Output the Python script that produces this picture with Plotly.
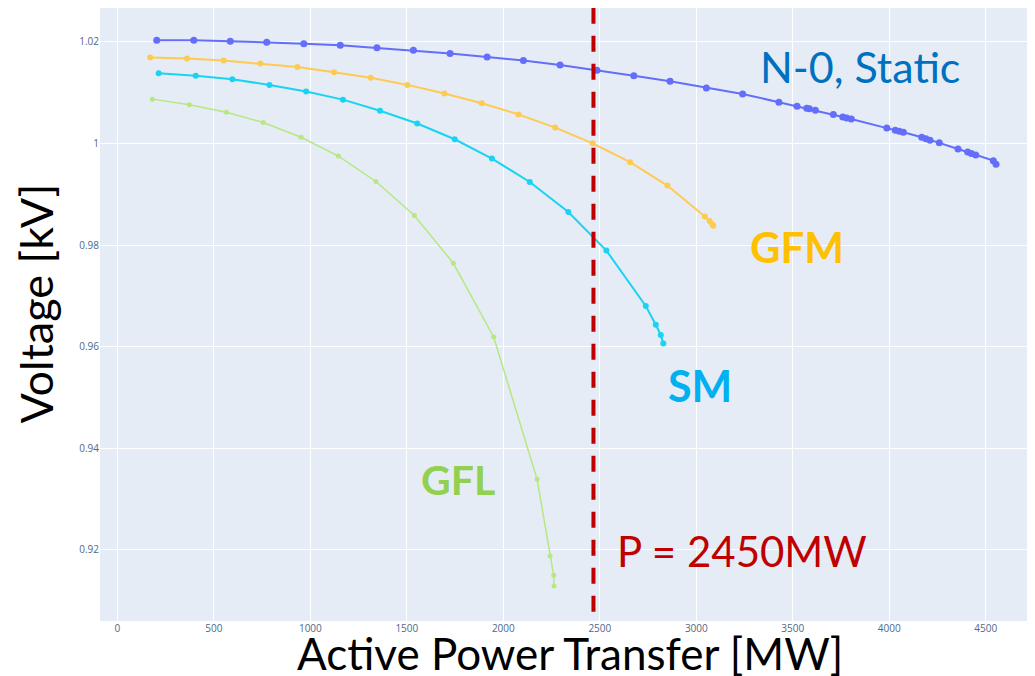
import plotly.graph_objects as go

# ---- data ----
static_p = [204, 396, 585, 774, 966, 1155, 1345, 1534, 1724, 1916, 2104, 2294, 2485, 2676,
            2864, 3052, 3240, 3428, 3522, 3572, 3586, 3617, 3710, 3759, 3779, 3803, 3987,
            4031, 4052, 4073, 4168, 4190, 4211, 4259, 4356, 4406, 4425, 4448, 4539, 4553]
static_v = [1.0203, 1.0203, 1.0201, 1.0199, 1.0196, 1.0193, 1.0188, 1.0183, 1.0177, 1.0170,
            1.0163, 1.0154, 1.0144, 1.0133, 1.0122, 1.0109, 1.0097, 1.0081, 1.0073, 1.0069,
            1.0068, 1.0065, 1.0057, 1.0052, 1.0050, 1.0048, 1.0030, 1.0026, 1.0024, 1.0022,
            1.0012, 1.0009, 1.0006, 1.0001, 0.9989, 0.9983, 0.9980, 0.9977, 0.9966, 0.9959]

gfm_p = [170, 361, 551, 741, 933, 1123, 1313, 1503, 1695, 1888, 2078, 2269, 2463, 2657,
         2850, 3044, 3069, 3083, 3088]
gfm_v = [1.0169, 1.0167, 1.0163, 1.0157, 1.0150, 1.0140, 1.0129, 1.0115, 1.0098, 1.0079,
         1.0057, 1.0031, 1.0000, 0.9963, 0.9917, 0.9856, 0.9847, 0.9841, 0.9838]

sm_p = [214, 406, 596, 788, 978, 1169, 1361, 1554, 1748, 1941, 2137, 2337, 2534, 2738,
        2790, 2816, 2829]
sm_v = [1.0138, 1.0133, 1.0126, 1.0115, 1.0102, 1.0086, 1.0064, 1.0039, 1.0008, 0.9970,
        0.9924, 0.9865, 0.9789, 0.9680, 0.9643, 0.9623, 0.9606]

gfl_p = [181, 373, 565, 756, 952, 1145, 1340, 1539, 1741, 1950, 2175, 2242, 2261, 2263]
gfl_v = [1.0087, 1.0076, 1.0061, 1.0041, 1.0012, 0.9975, 0.9925, 0.9858, 0.9764, 0.9619,
         0.9339, 0.9188, 0.9150, 0.9129]

limit_p = 2467
x_title = "Active Power Transfer [MW]"
y_title = "Voltage [kV]"
y_ticks = [0.92, 0.94, 0.96, 0.98, 1.0, 1.02]
y_ticktext = ["0.92", "0.94", "0.96", "0.98", "1", "1.02"]

TITLE_FONT = "Lato, 'Open Sans', sans-serif"

fig = go.Figure()
fig.add_trace(go.Scatter(x=static_p, y=static_v, mode="lines+markers", name="N-0, Static",
                         line=dict(color="#636efa", width=2), marker=dict(size=7)))
fig.add_trace(go.Scatter(x=gfm_p, y=gfm_v, mode="lines+markers", name="GFM",
                         line=dict(color="#FECB52", width=2), marker=dict(size=6)))
fig.add_trace(go.Scatter(x=sm_p, y=sm_v, mode="lines+markers", name="SM",
                         line=dict(color="#19d3f3", width=2), marker=dict(size=6)))
fig.add_trace(go.Scatter(x=gfl_p, y=gfl_v, mode="lines+markers", name="GFL",
                         line=dict(color="#B6E880", width=1.5), marker=dict(size=5)))

fig.add_shape(type="line", x0=limit_p, x1=limit_p, xref="x", y0=0.015, y1=1.0, yref="paper",
              line=dict(color="#C00000", width=4, dash="16px,12px"))

def label(text, x, y, color, size, bold=False):
    fig.add_annotation(text=text, x=x, y=y, xref="paper", yref="paper", showarrow=False,
                       xanchor="center", yanchor="middle",
                       font=dict(family=TITLE_FONT, size=size, color=color,
                                 weight="bold" if bold else "normal"))

label("N-0, Static", 0.813, 0.905, "#0070C0", 43)
label("GFM", 0.745, 0.610, "#FFC000", 42, True)
label("SM", 0.642, 0.384, "#00B0F0", 43, True)
label("GFL", 0.383, 0.231, "#92D050", 41, True)
label("P = 2450MW", 0.687, 0.114, "#C00000", 42)

fig.add_annotation(text=x_title, x=0.503, y=-0.053, xref="paper", yref="paper",
                   showarrow=False, xanchor="center", yanchor="middle",
                   font=dict(family=TITLE_FONT, size=44, color="black"))
fig.add_annotation(text=y_title, x=-0.068, y=0.5185, xref="paper", yref="paper",
                   showarrow=False, xanchor="center", yanchor="middle", textangle=-90,
                   font=dict(family=TITLE_FONT, size=45, color="black"))

# the page body adds an 8px margin, so the figure is sized/offset to compensate
fig.update_layout(
    width=1027, height=668,
    margin=dict(l=92, r=0, t=0, b=55),
    template="plotly",
    showlegend=False,
    paper_bgcolor="white",
    plot_bgcolor="#E5ECF6",
    font=dict(family="'Open Sans', sans-serif", size=10, color="#506784"),
)
fig.update_xaxes(range=[-90, 4755], tickmode="linear", tick0=0, dtick=500,
                 gridcolor="white", zeroline=False, showline=False, automargin=False)
fig.update_yaxes(range=[0.90602, 1.02663], gridcolor="white", zeroline=False,
                 showline=False, automargin=False,
                 tickvals=y_ticks, ticktext=y_ticktext)

fig.write_html("out.html")
